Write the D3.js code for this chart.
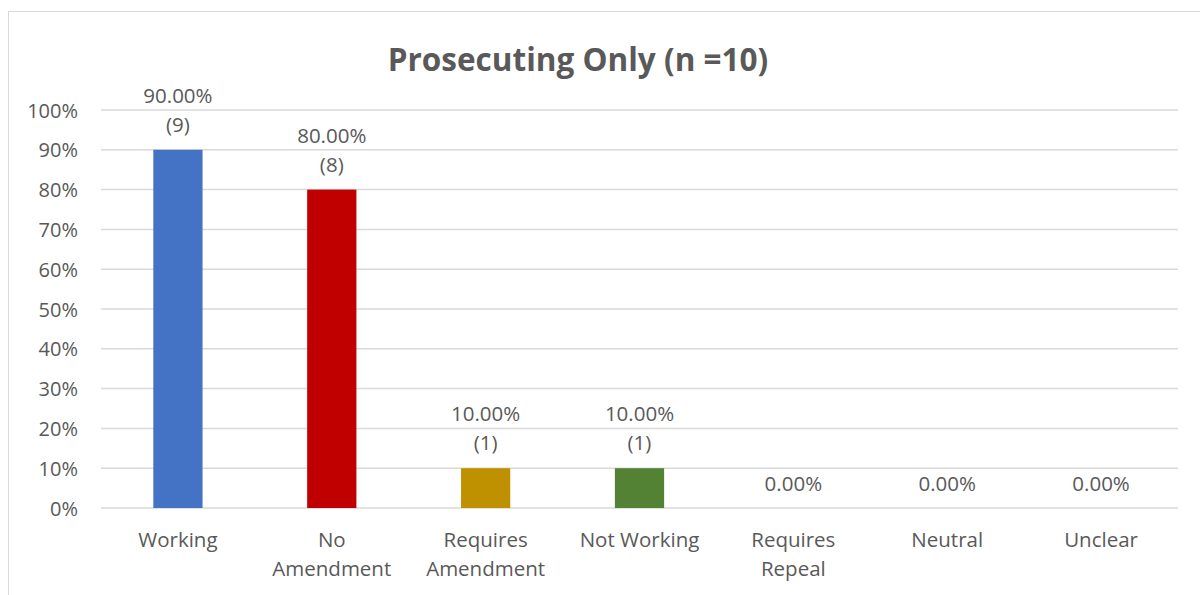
<!DOCTYPE html>
<html>
<head>
<meta charset="utf-8">
<script src="https://cdn.jsdelivr.net/npm/d3@7"></script>
<style>
  body { margin: 0; background: #fff; }
  text { font-family: "Open Sans", sans-serif; fill: #595959; }
</style>
</head>
<body>
<div id="graphique"></div>
<script>
// donnees
const categories = [["Working"], ["No", "Amendment"], ["Requires", "Amendment"], ["Not Working"], ["Requires", "Repeal"], ["Neutral"], ["Unclear"]];
const pourcentages = [90, 80, 10, 10, 0, 0, 0];
const effectifs = [9, 8, 1, 1, 0, 0, 0];
const couleurs = ["#4472C4", "#C00000", "#BF9000", "#548235", "#4472C4", "#4472C4", "#4472C4"];
const graduations = [0, 10, 20, 30, 40, 50, 60, 70, 80, 90, 100];

const largeur = 1200, hauteur = 595;
const marge = {gauche: 101, droite: 22, haut: 110, bas: 87};

const svg = d3.select("#graphique").append("svg")
  .attr("width", largeur).attr("height", hauteur);

// cadre du graphique (bord droit et bas hors image)
svg.append("rect").attr("x", 8.5).attr("y", 11.5).attr("width", 1300).attr("height", 700)
  .attr("fill", "none").attr("stroke", "#d9d9d9").attr("stroke-width", 1);

svg.append("text").attr("x", 578).attr("y", 71).attr("text-anchor", "middle")
  .style("font-size", "31.5px").style("font-weight", "bold")
  .text("Prosecuting Only (n =10)");

const x = d3.scaleBand().domain(d3.range(categories.length))
  .range([marge.gauche, largeur - marge.droite]).paddingInner(0.68).paddingOuter(0.34);
const y = d3.scaleLinear().domain([0, 100]).range([hauteur - marge.bas, marge.haut]);

// grille
svg.selectAll(".grille").data(graduations).enter().append("line")
  .attr("x1", marge.gauche).attr("x2", largeur - marge.droite)
  .attr("y1", d => y(d)).attr("y2", d => y(d))
  .attr("stroke", "#d9d9d9").attr("stroke-width", 1.5);

// axe vertical
const axeY = svg.append("g").attr("transform", "translate(78,0)")
  .call(d3.axisLeft(y).tickValues(graduations).tickFormat(d => d + "%").tickSize(0));
axeY.select(".domain").remove();
axeY.selectAll("text").style("font-size", "20px").attr("dy", "0.35em").attr("x", 0);

// barres
svg.selectAll(".barre").data(pourcentages).enter().append("rect")
  .attr("x", (d, i) => x(i)).attr("width", x.bandwidth())
  .attr("y", d => y(d)).attr("height", d => y(0) - y(d))
  .attr("fill", (d, i) => couleurs[i]);

// etiquettes de valeurs
pourcentages.forEach((v, i) => {
  let cx = x(i) + x.bandwidth() / 2;
  let t = svg.append("text").attr("text-anchor", "middle").style("font-size", "20.5px");
  if (effectifs[i] > 0) {
    t.append("tspan").attr("x", cx).attr("y", y(v) - 47).text(v.toFixed(2) + "%");
    t.append("tspan").attr("x", cx).attr("y", y(v) - 18).text("(" + effectifs[i] + ")");
  } else {
    t.attr("x", cx).attr("y", y(v) - 17).text(v.toFixed(2) + "%");
  }
});

// etiquettes de categories
categories.forEach((lignes, i) => {
  let cx = x(i) + x.bandwidth() / 2;
  let t = svg.append("text").attr("text-anchor", "middle").style("font-size", "20.5px");
  lignes.forEach((l, k) => {
    t.append("tspan").attr("x", cx).attr("y", 547 + k * 29).text(l);
  });
});
</script>
</body>
</html>
